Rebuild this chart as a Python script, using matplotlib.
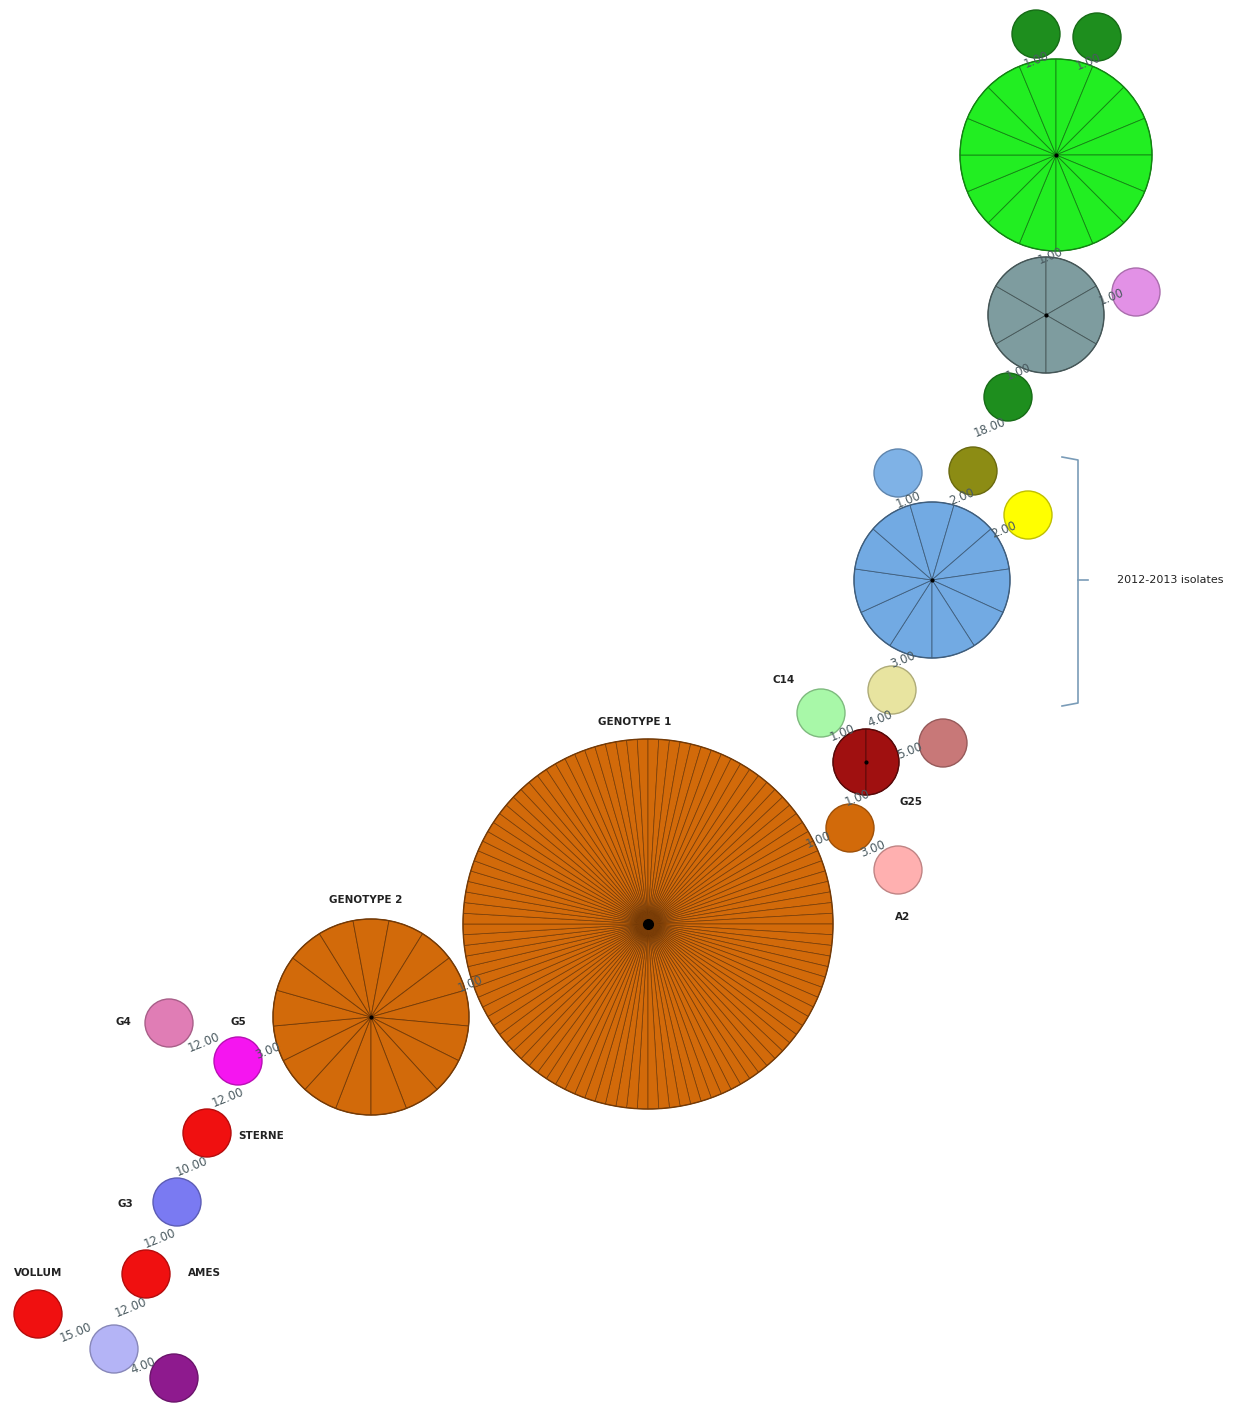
import numpy as np
import matplotlib.pyplot as plt
from matplotlib.patches import Wedge, Circle
from matplotlib.colors import to_rgb

# Noeuds de l'arbre (nombre d'isolats par type)
node_names = ['dg1', 'dg2', 'green', 'gray', 'violet', 'dg3',
              'lblue', 'olive', 'yellow', 'blue', 'khaki', 'C14',
              'darkred', 'rosy', 'G25', 'A2', 'G1', 'G2',
              'G4', 'G5', 'STERNE', 'G3', 'AMES', 'VOLLUM', 'lav', 'purple']
node_counts = [1, 1, 16, 6, 1, 1,
               1, 1, 1, 11, 1, 1,
               2, 1, 1, 1, 108, 17,
               1, 1, 1, 1, 1, 1, 1, 1]
node_colors = ['#1E8E1E', '#1E8E1E', '#22EE22', '#7E9C9F', '#E291E6', '#1E8E1E',
               '#7FB2E6', '#8C8C14', '#FFFF00', '#72AAE3', '#E8E4A0', '#A8F8A8',
               '#A01010', '#C87878', '#D26A0A', '#FFB0B0', '#D26A0A', '#D26A0A',
               '#E07DB5', '#F515F0', '#F01010', '#7A7AF2', '#F01010', '#F01010',
               '#B4B4F6', '#8E1A8E']

# Aretes (distance)
edges = [('dg1', 'green', 1.00), ('dg2', 'green', 1.00), ('green', 'gray', 1.00),
         ('gray', 'violet', 1.00), ('gray', 'dg3', 1.00), ('dg3', 'olive', 18.00),
         ('olive', 'blue', 2.00), ('lblue', 'blue', 1.00), ('yellow', 'blue', 2.00),
         ('blue', 'khaki', 3.00), ('khaki', 'darkred', 4.00), ('C14', 'darkred', 1.00),
         ('darkred', 'rosy', 5.00), ('darkred', 'G25', 1.00), ('G25', 'G1', 1.00),
         ('G25', 'A2', 3.00), ('G1', 'G2', 1.00), ('G2', 'G5', 3.00),
         ('G4', 'G5', 12.00), ('G5', 'STERNE', 12.00), ('STERNE', 'G3', 10.00),
         ('G3', 'AMES', 12.00), ('AMES', 'lav', 12.00), ('lav', 'VOLLUM', 15.00),
         ('lav', 'purple', 4.00)]

# mise en page (pixels): x, y, rayon
layout = {'dg1': (1036, 34, 24), 'dg2': (1097, 37, 24), 'green': (1056, 155, 96),
          'gray': (1046, 315, 58), 'violet': (1136, 292, 24), 'dg3': (1008, 397, 24),
          'lblue': (898, 473, 24), 'olive': (973, 471, 24), 'yellow': (1028, 515, 24),
          'blue': (932, 580, 78), 'khaki': (892, 690, 24), 'C14': (821, 713, 24),
          'darkred': (866, 762, 33), 'rosy': (943, 743, 24), 'G25': (850, 828, 24),
          'A2': (898, 870, 24), 'G1': (648, 924, 185), 'G2': (371, 1017, 98),
          'G4': (169, 1023, 24), 'G5': (238, 1061, 24), 'STERNE': (207, 1133, 24),
          'G3': (177, 1202, 24), 'AMES': (146, 1274, 24), 'VOLLUM': (38, 1314, 24),
          'lav': (114, 1349, 24), 'purple': (174, 1378, 24)}
edge_lbl_pos = [(1036, 60), (1088, 62), (1050, 256), (1111, 297), (1018, 372),
                (990, 428), (962, 497), (908, 500), (1004, 530), (903, 660),
                (880, 719), (842, 733), (910, 751), (857, 798), (818, 840),
                (873, 849), (470, 984), (268, 1051), (204, 1042), (228, 1097),
                (192, 1167), (160, 1238), (131, 1307), (76, 1333), (143, 1366)]

labels = [('GENOTYPE 1', 635, 722), ('GENOTYPE 2', 366, 900), ('C14', 784, 680),
          ('G25', 911, 802), ('A2', 903, 917), ('G4', 123, 1022), ('G5', 238, 1022),
          ('STERNE', 261, 1136), ('G3', 125, 1204), ('AMES', 204, 1273),
          ('VOLLUM', 38, 1273)]


def darker(c, f=0.6):
    r, g, b = to_rgb(c)
    return (r * f, g * f, b * f)


fig = plt.figure(figsize=(12.55, 14.03), dpi=100)
ax = fig.add_axes([0, 0, 1, 1])
ax.set_xlim(0, 1255)
ax.set_ylim(1403, 0)
ax.set_aspect('equal')
ax.axis('off')

# noeuds (camemberts)
for name, n, col in zip(node_names, node_counts, node_colors):
    x, y, r = layout[name]
    ec = darker(col, 0.55)
    if n == 1:
        ax.add_patch(Circle((x, y), r, facecolor=col, edgecolor=darker(col, 0.75),
                            lw=1.0, zorder=2))
        continue
    step = 360.0 / n
    lw = 0.6 if n < 50 else 0.5
    for k in range(n):
        th = 90 + k * step
        ax.add_patch(Wedge((x, y), r, th, th + step, facecolor=col,
                           edgecolor=ec, lw=lw, zorder=2))
    ax.add_patch(Circle((x, y), r, facecolor='none', edgecolor=ec, lw=1.0, zorder=3))
    ax.plot(x, y, 'o', color='black', ms=2 if n < 30 else 7, zorder=4)

# etiquettes des aretes
for (a, b, w), (lx, ly) in zip(edges, edge_lbl_pos):
    ax.text(lx, ly, '%.2f' % w, fontsize=8.5, color='#4A5A60', rotation=22,
            ha='center', va='center', zorder=5)

# noms
for txt, lx, ly in labels:
    ax.text(lx, ly, txt, fontsize=7.5, fontweight='bold', color='#222222',
            ha='center', va='center', zorder=5)

# accolade 2012-2013
bx = [1062, 1078, 1078, 1062]
by = [457, 460, 703, 706]
ax.plot(bx, by, color='#7A9CB8', lw=1.2)
ax.plot([1078, 1088], [580, 580], color='#7A9CB8', lw=1.2)
ax.text(1117, 580, '2012-2013 isolates', fontsize=8, color='#222222',
        ha='left', va='center')

fig.savefig('out.png', dpi=100, facecolor='white')
